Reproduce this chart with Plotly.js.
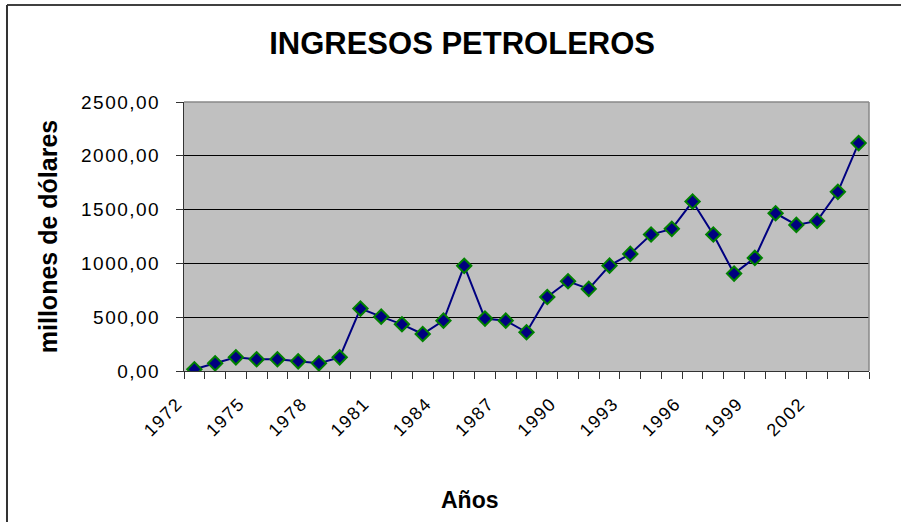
<!DOCTYPE html>
<html>
<head>
<meta charset="utf-8">
<script src="https://cdn.plot.ly/plotly-3.0.1.min.js"></script>
<style>
html,body{margin:0;padding:0;background:#fff;}
#chart .ytick text{letter-spacing:1.5px;}
#chart .xtick text{letter-spacing:1.5px;}
</style>
</head>
<body>
<div id="chart" style="width:901px;height:522px;"></div>
<script>
var years = [1972,1973,1974,1975,1976,1977,1978,1979,1980,1981,1982,1983,1984,1985,1986,1987,1988,1989,1990,1991,1992,1993,1994,1995,1996,1997,1998,1999,2000,2001,2002,2003,2004];
var ingresos = [16,71,127,109,109,90,71,127,580,505,434,344,468,977,487,468,360,688,834,763,979,1088,1268,1321,1575,1268,905,1051,1466,1358,1395,1665,2118];
var tickYears = [1972,1975,1978,1981,1984,1987,1990,1993,1996,1999,2002];
var tickLabels = ["1972","1975","1978","1981","1984","1987","1990","1993","1996","1999","2002"];

var trace = {
  x: years, y: ingresos, type: 'scatter', mode: 'lines+markers',
  line: {color: '#000080', width: 2},
  marker: {symbol: 'diamond', size: 11, color: '#000080', line: {color: '#008000', width: 2}},
  hoverinfo: 'x+y'
};

var layout = {
  width: 901, height: 522,
  margin: {l: 184, r: 32, t: 102, b: 151},
  paper_bgcolor: '#ffffff',
  plot_bgcolor: '#c0c0c0',
  separators: ',.',
  showlegend: false,
  font: {family: 'Liberation Sans, Arial, sans-serif', color: '#000'},
  title: {text: '<b>INGRESOS PETROLEROS</b>', font: {size: 31, color: '#000'},
          xref: 'paper', x: 0.406, xanchor: 'center', yref: 'container', y: 0.918, yanchor: 'middle'},
  xaxis: {
    range: [1971.5, 2004.5], tickmode: 'array', tickvals: tickYears, ticktext: tickLabels,
    tickangle: -45, ticks: '', ticklabelstandoff: 14, ticklabelshift: -17,
    tickfont: {size: 18, color: '#000'},
    showgrid: false, zeroline: false, showline: true, linecolor: '#333', linewidth: 1,
    minor: {tick0: 1971.5, dtick: 1, ticks: 'outside', ticklen: 7, tickcolor: '#333', tickwidth: 1, showgrid: false}
  },
  yaxis: {
    range: [0, 2500], dtick: 500, tickformat: '.2f',
    ticks: 'outside', ticklen: 7, tickcolor: '#333', ticklabelstandoff: 12,
    tickfont: {size: 19, color: '#000'},
    showgrid: true, gridcolor: '#000', gridwidth: 1, zeroline: false,
    showline: true, linecolor: '#333', linewidth: 1,
    title: {text: '<b>millones de dólares</b>', font: {size: 25, color: '#000'}, standoff: 26}
  },
  annotations: [
    {text: '<b>Años</b>', xref: 'paper', yref: 'paper', x: (470 - 184) / 685, y: -(500 - 371) / 269,
     xanchor: 'center', yanchor: 'middle', showarrow: false, font: {size: 23, color: '#000'}}
  ],
  shapes: [
    {type: 'line', xref: 'paper', yref: 'paper', x0: 0, x1: 1, y0: 1, y1: 1, line: {color: '#888', width: 1.5}},
    {type: 'line', xref: 'paper', yref: 'paper', x0: 1, x1: 1, y0: 0, y1: 1, line: {color: '#888', width: 1.5}},
    {type: 'line', xref: 'paper', yref: 'paper', x0: -0.2584, x1: 1.05, y0: 1.3606, y1: 1.3606, line: {color: '#000', width: 1.5}},
    {type: 'line', xref: 'paper', yref: 'paper', x0: -0.2584, x1: -0.2584, y0: -0.57, y1: 1.3606, line: {color: '#333', width: 2}}
  ]
};

Plotly.newPlot('chart', [trace], layout, {displayModeBar: false, staticPlot: true});
</script>
</body>
</html>
